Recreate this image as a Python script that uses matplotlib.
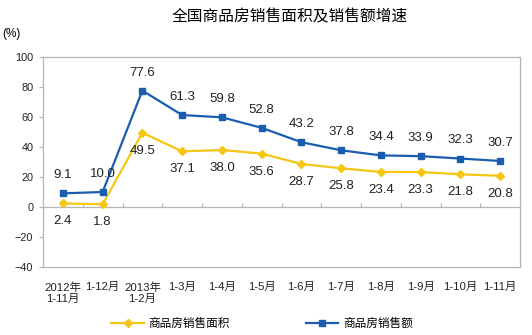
import matplotlib.pyplot as plt
import numpy as np

plt.rcParams['font.family'] = ['Liberation Sans', 'Noto Sans CJK SC', 'DejaVu Sans']

# categories and growth rates (%)
months = ['2012年\n1-11月', '1-12月', '2013年\n1-2月', '1-3月', '1-4月', '1-5月',
          '1-6月', '1-7月', '1-8月', '1-9月', '1-10月', '1-11月']
area = [2.4, 1.8, 49.5, 37.1, 38.0, 35.6, 28.7, 25.8, 23.4, 23.3, 21.8, 20.8]
sales = [9.1, 10.0, 77.6, 61.3, 59.8, 52.8, 43.2, 37.8, 34.4, 33.9, 32.3, 30.7]

BLUE = '#1A5DB0'
YELLOW = '#F5C612'
GRAY = '#B4B4B4'

fig = plt.figure(figsize=(5.32, 3.35), dpi=100)
ax = fig.add_axes([43/532, 68/335, 477/532, 210/335])

x = np.arange(len(months))
ax.plot(x, area, color=YELLOW, lw=1.6, marker='D', ms=4.2, label='商品房销售面积')
ax.plot(x, sales, color=BLUE, lw=1.6, marker='s', ms=4.5, label='商品房销售额')

for i in range(len(x)):
    ax.annotate(f'{sales[i]:.1f}', (x[i], sales[i]), xytext=(0, 13), textcoords='offset points',
                ha='center', va='center', fontsize=9.5, color='#222222')
    ax.annotate(f'{area[i]:.1f}', (x[i], area[i]), xytext=(0, -13), textcoords='offset points',
                ha='center', va='center', fontsize=9.5, color='#222222')

ax.set_xlim(-0.5, len(months) - 0.5)
ax.set_ylim(-40, 100)
ax.set_yticks(np.arange(-40, 101, 20))
ax.tick_params(axis='y', direction='out', length=3, color=GRAY, labelsize=7.8, pad=4, labelcolor='#222222')
ax.set_xticks(x)
ax.set_xticklabels(months, fontsize=8.2, color='#222222', linespacing=1.15)
ax.tick_params(axis='x', length=0, pad=11)
for s in ax.spines.values():
    s.set_color(GRAY)
    s.set_linewidth(0.9)

# zero axis with category boundary ticks
zero = ax.secondary_xaxis(40/140)
zero.set_xticks(np.arange(0.5, len(months) - 0.5, 1))
zero.set_xticklabels([])
zero.tick_params(direction='in', length=3, color=GRAY)
zero.spines['bottom'].set_color(GRAY)
zero.spines['bottom'].set_linewidth(0.9)

fig.text(290/532, 1 - 17/335, '全国商品房销售面积及销售额增速', ha='center', va='center', fontsize=11.3)
fig.text(2/532, 1 - 34/335, '(%)', ha='left', va='center', fontsize=8.5)

fig.legend(loc='center', bbox_to_anchor=(262/532, 1 - 324/335), ncol=2, frameon=False,
           fontsize=8.4, handlelength=2.8, columnspacing=6.5, handletextpad=0.4)

fig.savefig('out.png', dpi=100)
